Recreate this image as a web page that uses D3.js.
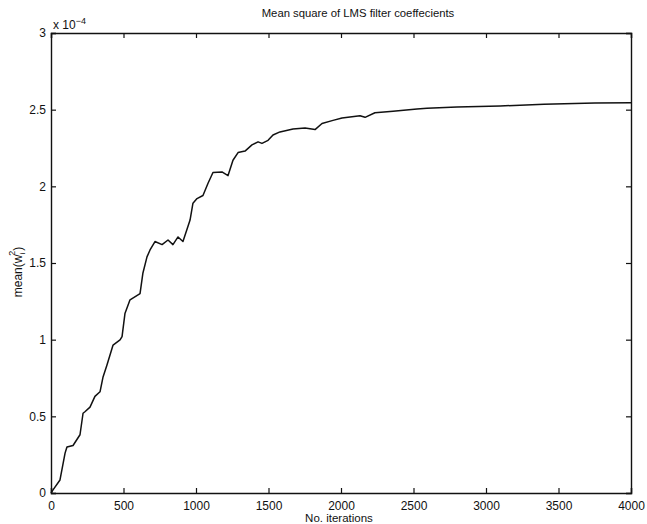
<!DOCTYPE html>
<html>
  <head>
    <meta charset="utf-8">
    <title>LMS mean square</title>
    <script type="text/javascript" src="https://cdn.jsdelivr.net/npm/d3@7"></script>
    <style type="text/css">
      body { margin: 0; background: #fff; }
      text { font-family: "Liberation Sans", Arial, sans-serif; fill: #111; }
    </style>
  </head>
  <body>
    <script type="text/javascript">
      // SVG size
      var w = 647;
      var h = 524;
      var margin = {top: 33, right: 16, bottom: 31, left: 51};

      // iterations and mean(w^2) in units of 1e-4
      var iterations = [0, 14, 62, 97, 110, 152, 200, 221, 234, 269, 303, 338, 359, 386, 428, 476, 490, 510,
                        545, 614, 634, 662, 683, 717, 766, 807, 841, 876, 910, 938, 959, 979, 1007, 1048,
                        1083, 1117, 1179, 1221, 1255, 1290, 1338, 1386, 1428, 1455, 1497, 1531, 1579, 1669,
                        1752, 1821, 1869, 1945, 2007, 2131, 2166, 2234, 2359, 2524, 2593, 2800, 3097, 3400,
                        3752, 4000];
      var meanSq = [0, 0.02, 0.085, 0.26, 0.30, 0.31, 0.38, 0.52, 0.53, 0.56, 0.63, 0.66, 0.757, 0.835, 0.965,
                    0.998, 1.02, 1.17, 1.26, 1.30, 1.435, 1.54, 1.585, 1.64, 1.62, 1.65, 1.62, 1.67, 1.64,
                    1.72, 1.78, 1.89, 1.92, 1.94, 2.02, 2.09, 2.094, 2.07, 2.17, 2.22, 2.23, 2.27, 2.29, 2.28,
                    2.30, 2.335, 2.355, 2.374, 2.38, 2.37, 2.41, 2.43, 2.446, 2.46, 2.45, 2.48, 2.49, 2.505,
                    2.51, 2.518, 2.524, 2.535, 2.543, 2.545];

      var xTicks = [0, 500, 1000, 1500, 2000, 2500, 3000, 3500, 4000];
      var yTicks = [0, 0.5, 1, 1.5, 2, 2.5, 3];
      var yTickLabels = ["0", "0.5", "1", "1.5", "2", "2.5", "3"];

      var svg = d3.select("body").append("svg")
                  .attr("width", w)
                  .attr("height", h);

      var x = d3.scaleLinear().domain([0, 4000]).range([margin.left, w - margin.right]);
      var y = d3.scaleLinear().domain([0, 3]).range([h - margin.bottom, margin.top]);

      // axes with inward ticks (box on all four sides)
      var tl = 5;
      svg.append("g").attr("transform", "translate(0," + y(0) + ")")
         .call(d3.axisBottom(x).tickValues(xTicks).tickSize(-tl).tickPadding(8).tickFormat(d3.format("d")));
      svg.append("g").attr("transform", "translate(0," + y(3) + ")")
         .call(d3.axisTop(x).tickValues(xTicks).tickSize(-tl).tickFormat(""));
      svg.append("g").attr("transform", "translate(" + x(0) + ",0)")
         .call(d3.axisLeft(y).tickValues(yTicks).tickSize(-tl).tickPadding(5)
               .tickFormat(function(d, i) { return yTickLabels[i]; }));
      svg.append("g").attr("transform", "translate(" + x(4000) + ",0)")
         .call(d3.axisRight(y).tickValues(yTicks).tickSize(-tl).tickFormat(""));

      svg.selectAll(".domain").attr("stroke", "#111").attr("stroke-width", 1.4);
      svg.selectAll(".tick line").attr("stroke", "#111").attr("stroke-width", 1.2);
      svg.selectAll(".tick text").attr("font-size", "12px")
         .attr("font-family", "'Liberation Sans', Arial, sans-serif").attr("fill", "#111");

      // the curve
      var pts = iterations.map(function(d, i) { return [d, meanSq[i]]; });
      var line = d3.line()
                   .x(function(d) { return x(d[0]); })
                   .y(function(d) { return y(d[1]); });
      svg.append("path")
         .datum(pts)
         .attr("d", line)
         .attr("fill", "none")
         .attr("stroke", "#111")
         .attr("stroke-width", 1.5)
         .attr("stroke-linejoin", "round");

      // title and labels
      svg.append("text").attr("x", 358).attr("y", 17).attr("text-anchor", "middle")
         .attr("font-size", "11.3px").text("Mean square of LMS filter coeffecients");

      svg.append("text").attr("x", 339).attr("y", 522).attr("text-anchor", "middle")
         .attr("font-size", "11.5px").text("No. iterations");

      var mult = svg.append("text").attr("x", 53).attr("y", 29).attr("font-size", "12px");
      mult.append("tspan").text("x 10");
      mult.append("tspan").attr("dy", -5).attr("font-size", "9px").text("\u22124");

      var yl = svg.append("text").attr("transform", "translate(22,272) rotate(-90)")
                  .attr("text-anchor", "middle").attr("font-size", "12px");
      yl.append("tspan").text("mean(w");
      yl.append("tspan").attr("dy", 3).attr("font-size", "8px").text("i");
      yl.append("tspan").attr("dy", -10).attr("dx", -3).attr("font-size", "9px").text("2");
      yl.append("tspan").attr("dy", 7).text(")");
    </script>
  </body>
</html>
